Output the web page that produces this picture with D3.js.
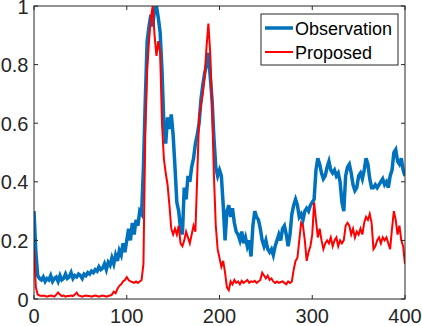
<!DOCTYPE html>
<html>
<head>
<meta charset="utf-8">
<script src="https://cdn.jsdelivr.net/npm/d3@7"></script>
<style>
  body { margin: 0; background: #fff; }
  svg { display: block; }
  text { font-family: "Liberation Sans", Arial, sans-serif; fill: #262626; }
</style>
</head>
<body>
<svg id="chart" width="422" height="326"></svg>
<script>
// sample step on x axis (every 2 units, 0..400)
var xStep = 2
var xTicks = [0, 100, 200, 300, 400]
var yTicks = [0, 0.2, 0.4, 0.6, 0.8, 1]
var seriesNames = ["Observation", "Proposed"]

var observation = [
  0.30, 0.16, 0.08, 0.07, 0.065, 0.075, 0.06, 0.07, 0.065, 0.08,
  0.06, 0.07, 0.075, 0.06, 0.08, 0.065, 0.07, 0.085, 0.07, 0.075,
  0.09, 0.07, 0.08, 0.075, 0.085, 0.08, 0.07, 0.085, 0.08, 0.09,
  0.085, 0.095, 0.09, 0.10, 0.095, 0.11, 0.10, 0.105, 0.12, 0.10,
  0.125, 0.115, 0.14, 0.12, 0.15, 0.13, 0.165, 0.15, 0.19, 0.16,
  0.20, 0.24, 0.20, 0.26, 0.22, 0.27, 0.25, 0.30, 0.29, 0.45,
  0.68, 0.88, 0.93, 0.97, 0.93, 0.99, 1.0, 0.96, 0.91, 0.78,
  0.60, 0.53, 0.62, 0.58, 0.63, 0.56, 0.45, 0.33, 0.30, 0.24,
  0.22, 0.38, 0.34, 0.42, 0.40, 0.45, 0.48, 0.53, 0.56, 0.60,
  0.68, 0.73, 0.77, 0.80, 0.84, 0.76, 0.68, 0.55, 0.45, 0.42,
  0.44, 0.42, 0.32, 0.20, 0.30, 0.32, 0.28, 0.31, 0.26, 0.23,
  0.22, 0.20, 0.23, 0.19, 0.21, 0.18, 0.20, 0.145, 0.25, 0.30,
  0.28, 0.27, 0.24, 0.20, 0.18, 0.20, 0.17, 0.16, 0.17, 0.15,
  0.18, 0.20, 0.22, 0.20, 0.24, 0.25, 0.22, 0.18, 0.22, 0.29,
  0.32, 0.34, 0.32, 0.28, 0.29, 0.27, 0.30, 0.31, 0.30, 0.32,
  0.33, 0.34, 0.44, 0.48, 0.46, 0.43, 0.41, 0.42, 0.45, 0.47,
  0.44, 0.43, 0.44, 0.42, 0.43, 0.40, 0.33, 0.30, 0.42, 0.45,
  0.46, 0.43, 0.39, 0.37, 0.38, 0.42, 0.43, 0.41, 0.44, 0.48,
  0.46, 0.41, 0.38, 0.38, 0.39, 0.38, 0.39, 0.40, 0.41, 0.39,
  0.40, 0.38, 0.42, 0.44, 0.50, 0.51, 0.47, 0.46, 0.48, 0.44,
  0.42
]

var proposed = [
  0.17, 0.04, 0.015, 0.012, 0.01, 0.012, 0.01, 0.008, 0.01, 0.012,
  0.01, 0.008, 0.015, 0.022, 0.015, 0.01, 0.012, 0.008, 0.01, 0.01,
  0.012, 0.01, 0.015, 0.022, 0.012, 0.01, 0.008, 0.01, 0.012, 0.01,
  0.01, 0.008, 0.01, 0.012, 0.01, 0.008, 0.01, 0.012, 0.01, 0.008,
  0.01, 0.012, 0.015, 0.025, 0.02, 0.035, 0.045, 0.05, 0.06, 0.065,
  0.075, 0.065, 0.06, 0.058, 0.055, 0.06, 0.055, 0.06, 0.065, 0.12,
  0.57, 0.78, 0.88, 0.96, 1.0, 0.90, 0.83, 0.88, 0.84, 0.60,
  0.48, 0.43, 0.39, 0.32, 0.24, 0.22, 0.24, 0.22, 0.25, 0.19,
  0.18, 0.20, 0.23, 0.21, 0.19, 0.22, 0.25, 0.23, 0.42, 0.62,
  0.66, 0.70, 0.76, 0.86, 0.94, 0.84, 0.66, 0.42, 0.25, 0.17,
  0.14, 0.11, 0.13, 0.09, 0.04, 0.03, 0.06, 0.05, 0.065, 0.055,
  0.06, 0.05, 0.062, 0.055, 0.06, 0.065, 0.055, 0.06, 0.058, 0.062,
  0.055, 0.06, 0.065, 0.09, 0.08, 0.07, 0.08, 0.065, 0.07, 0.06,
  0.055, 0.06, 0.055, 0.058, 0.06, 0.055, 0.05, 0.06, 0.055, 0.06,
  0.10, 0.13, 0.14, 0.20, 0.26, 0.25, 0.20, 0.13, 0.16, 0.18,
  0.22, 0.33, 0.27, 0.21, 0.24, 0.20, 0.17, 0.19, 0.20, 0.19,
  0.21, 0.18, 0.20, 0.21, 0.18, 0.20, 0.19, 0.20, 0.25, 0.26,
  0.25, 0.22, 0.24, 0.21, 0.23, 0.22, 0.24, 0.22, 0.26, 0.28,
  0.27, 0.29, 0.26, 0.17, 0.18, 0.20, 0.21, 0.19, 0.21, 0.20,
  0.21, 0.19, 0.17, 0.24, 0.30, 0.27, 0.22, 0.25, 0.20, 0.18,
  0.12
]

var colors = ["#0072BD", "#FF0000"]
var widths = [3.5, 2]

var svg = d3.select("#chart")
var plotLeft = 34, plotRight = 405, plotTop = 6, plotBottom = 299

var x = d3.scaleLinear().domain([0, 400]).range([plotLeft, plotRight])
var y = d3.scaleLinear().domain([0, 1]).range([plotBottom, plotTop])

svg.append("clipPath").attr("id", "plotclip")
  .append("rect")
  .attr("x", plotLeft).attr("y", plotTop)
  .attr("width", plotRight - plotLeft).attr("height", plotBottom - plotTop)

var line = d3.line()
  .x(function (d, i) { return x(i * xStep) })
  .y(function (d) { return y(d) })

var plot = svg.append("g").attr("clip-path", "url(#plotclip)")
;[observation, proposed].forEach(function (s, k) {
  plot.append("path")
    .datum(s)
    .attr("d", line)
    .attr("fill", "none")
    .attr("stroke", colors[k])
    .attr("stroke-width", widths[k])
    .attr("stroke-linejoin", "miter")
})

// axes, MATLAB box style with ticks inside
var axisColor = "#262626"
var tl = 4

svg.append("rect")
  .attr("x", plotLeft).attr("y", plotTop)
  .attr("width", plotRight - plotLeft).attr("height", plotBottom - plotTop)
  .attr("fill", "none").attr("stroke", axisColor).attr("stroke-width", 1)

var g = svg.append("g").attr("stroke", axisColor).attr("stroke-width", 1)
xTicks.forEach(function (t) {
  g.append("line").attr("x1", x(t)).attr("x2", x(t)).attr("y1", plotBottom).attr("y2", plotBottom - tl)
  g.append("line").attr("x1", x(t)).attr("x2", x(t)).attr("y1", plotTop).attr("y2", plotTop + tl)
})
yTicks.forEach(function (t) {
  g.append("line").attr("x1", plotLeft).attr("x2", plotLeft + tl).attr("y1", y(t)).attr("y2", y(t))
  g.append("line").attr("x1", plotRight).attr("x2", plotRight - tl).attr("y1", y(t)).attr("y2", y(t))
})

svg.append("g").selectAll("text")
  .data(xTicks)
  .enter()
  .append("text")
  .attr("x", function (d) { return x(d) })
  .attr("y", 323)
  .attr("text-anchor", "middle")
  .style("font-size", "20px")
  .text(function (d) { return d })

svg.append("g").selectAll("text")
  .data(yTicks)
  .enter()
  .append("text")
  .attr("x", 28.5)
  .attr("y", function (d) { return y(d) + 7.5 })
  .attr("text-anchor", "end")
  .style("font-size", "20px")
  .text(function (d) { return d3.format("~g")(d) })

// legend
var legend = svg.append("g")
legend.append("rect")
  .attr("x", 261).attr("y", 14)
  .attr("width", 137).attr("height", 51)
  .attr("fill", "#fff").attr("stroke", axisColor).attr("stroke-width", 1)

seriesNames.forEach(function (name, k) {
  var ly = 28 + k * 24
  legend.append("line")
    .attr("x1", 265).attr("x2", 293)
    .attr("y1", ly).attr("y2", ly)
    .attr("stroke", colors[k]).attr("stroke-width", widths[k])
  legend.append("text")
    .attr("x", 295).attr("y", ly + 6.5)
    .style("font-size", "18px")
    .style("fill", "#000")
    .text(name)
})
</script>
</body>
</html>
